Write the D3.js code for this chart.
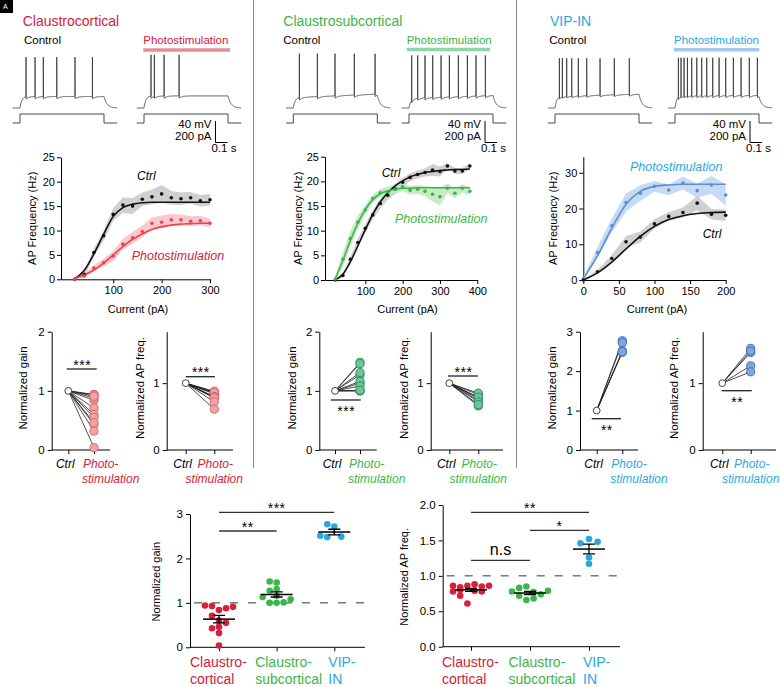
<!DOCTYPE html>
<html><head><meta charset="utf-8">
<script src="https://cdn.jsdelivr.net/npm/d3@7"></script>
<style>
body{margin:0;background:#fff;}
svg{display:block;font-family:"Liberation Sans",Arial,Helvetica,sans-serif;}
</style></head><body>
<svg id="chart" width="780" height="687"></svg>
<script>
// ================= DATA =================
const groups = ["Claustrocortical", "Claustrosubcortical", "VIP-IN"];
const traceLabels = ["Control", "Photostimulation"];
const condLabels = ["Ctrl", "Photo"];
const summaryCats = ["CC", "CS", "VIP"];
const summaryCatLines = [["Claustro-", "cortical"], ["Claustro-", "subcortical"], ["VIP-", "IN"]];

// spike times (ms after current-step onset) in example traces
const spikesCCctrl = [50, 125, 194, 306, 458, 603];
const spikesCCphoto = [58, 86, 167, 292];
const spikesCSctrl = [50, 200, 347, 508, 681];
const spikesCSphoto = [22, 72, 133, 197, 267, 336, 411, 486, 558, 636];
const spikesVIPctrl = [36, 61, 97, 139, 194, 264, 375, 494, 619];
const spikesVIPphoto = [28, 50, 75, 103, 139, 181, 222, 264, 314, 367, 422, 486, 550, 619, 686];

// F-I curves: Claustrocortical
const currentCC = [20, 40, 60, 80, 100, 120, 140, 160, 180, 200, 220, 240, 260, 280, 300];
const freqCCctrl = [0, 1.0, 5.5, 8.9, 13.3, 15.2, 15.0, 16.4, 16.9, 17.5, 16.7, 16.5, 16.7, 16.1, 16.3];
const semCCctrl = [0.2, 0.5, 0.8, 1.0, 1.3, 1.6, 1.6, 1.4, 1.5, 1.8, 1.4, 1.3, 1.2, 1.2, 1.2];
const fitCCctrl = [0.1, 1.8, 5.2, 9.2, 12.9, 14.7, 15.4, 15.7, 15.8, 15.8, 15.8, 15.8, 15.8, 15.8, 15.8];
const freqCCphoto = [0, 0.7, 2.3, 3.4, 4.8, 7.2, 8.5, 9.8, 11.5, 11.7, 12.2, 12.2, 11.9, 12.0, 11.5];
const semCCphoto = [0.2, 0.4, 0.6, 0.8, 1.0, 1.1, 1.2, 1.2, 1.2, 1.3, 1.2, 1.1, 1.0, 1.0, 0.9];
const fitCCphoto = [0.2, 0.9, 1.9, 3.3, 5.0, 6.7, 8.2, 9.3, 10.2, 10.8, 11.1, 11.3, 11.4, 11.5, 11.5];

// F-I curves: Claustrosubcortical
const currentCS = [20, 40, 60, 80, 100, 120, 140, 160, 180, 200, 220, 240, 260, 280, 300, 320, 340, 360, 380];
const freqCSctrl = [0, 0.9, 4.2, 7.6, 10.5, 13.2, 15.5, 17.2, 18.5, 19.8, 20.8, 21.4, 21.8, 22.3, 22.0, 23.1, 22.1, 22.1, 23.1];
const semCSctrl = [0.2, 0.4, 0.6, 0.7, 0.8, 0.9, 1.0, 1.0, 1.0, 0.9, 0.8, 0.8, 0.8, 1.2, 1.0, 0.6, 0.6, 0.6, 0.6];
const fitCSctrl = [0, 1.2, 3.7, 6.9, 10.2, 13.3, 15.8, 17.7, 19.1, 20.1, 20.9, 21.4, 21.8, 22.0, 22.2, 22.3, 22.4, 22.4, 22.5];
const freqCSphoto = [0.2, 4.2, 8.4, 11.7, 14.2, 16.5, 17.7, 17.9, 18.4, 18.9, 18.2, 18.4, 18.0, 17.4, 16.9, 18.6, 17.6, 18.6, 18.0];
const semCSphoto = [0.8, 1.5, 1.6, 1.4, 1.0, 0.8, 0.8, 1.0, 1.0, 0.8, 0.8, 0.9, 1.0, 1.5, 1.8, 1.0, 1.0, 0.8, 0.8];
const fitCSphoto = [0.3, 4.0, 8.0, 11.5, 14.3, 16.3, 17.5, 18.1, 18.4, 18.6, 18.6, 18.7, 18.7, 18.7, 18.7, 18.7, 18.7, 18.7, 18.7];

// F-I curves: VIP-IN
const currentVIP = [0, 20, 40, 60, 80, 100, 120, 140, 160, 180, 200];
const freqVIPctrl = [0, 2.3, 6.0, 10.7, 12.0, 15.7, 17.8, 18.9, 21.5, 18.4, 18.1];
const semVIPctrl = [0.2, 0.6, 1.0, 1.6, 1.6, 1.3, 1.2, 1.4, 2.0, 1.5, 1.6];
const fitVIPctrl = [0, 2.0, 5.0, 8.7, 12.2, 15.0, 16.9, 18.0, 18.6, 18.9, 19.0];
const freqVIPphoto = [0.3, 7.7, 15.2, 21.7, 24.3, 26.2, 25.2, 27.1, 25.0, 26.6, 23.8];
const semVIPphoto = [0.5, 1.5, 2.0, 2.5, 2.2, 1.5, 1.5, 1.8, 2.0, 2.5, 3.0];
const fitVIPphoto = [0.3, 6.8, 14.5, 21.2, 24.8, 26.2, 26.6, 26.8, 26.8, 26.8, 26.8];

// Normalized gain (photostimulation / control)
const gainCC = [0.94, 0.93, 0.84, 0.88, 0.91, 0.71, 0.60, 0.55, 0.43, 0.46, 0.32, 0.04];
const gainCS = [1.48, 1.46, 1.27, 1.31, 1.13, 1.16, 1.08, 1.00, 1.00, 1.01];
const gainVIP = [2.77, 2.72, 2.51, 2.48, 2.49];
// Normalized AP frequency
const apCC = [0.86, 0.84, 0.86, 0.88, 0.85, 0.86, 0.78, 0.80, 0.79, 0.78, 0.72, 0.61];
const apCS = [0.78, 0.83, 0.85, 0.77, 0.74, 0.79, 0.72, 0.66, 0.68];
const apVIP = [1.46, 1.52, 1.48, 1.26, 1.17];
// beeswarm slot of each summary dot
const gainCCslot = [-2, -1, 0, 1, 2, -1, 0, 1, -1, 0, 0, 0];
const gainCSslot = [-1, 0, -1, 0, -2, 0, 2, -1, 0, 1];
const gainVIPslot = [-1, 0, -2, -1, 1];
const apCCslot = [-2.5, -1.5, -0.5, 0.5, 1.5, 2.5, -2.5, -1.5, 0.5, 1.5, -1.5, -0.5];
const apCSslot = [-2.5, -1.5, -0.5, 0.5, 1.5, 2.5, -1.5, -0.5, 0.5];
const apVIPslot = [-1.2, 0, 1.2, 0, 0];

const sigGainSummary = [["CC", "VIP", "***"], ["CC", "CS", "**"]];
const sigApSummary = [["CC", "VIP", "**"], ["CS", "VIP", "*"], ["CC", "CS", "n.s"]];

// ================= STYLE =================
const FONT = '"Liberation Sans", Arial, Helvetica, sans-serif';
const RED = "#d5213c", GREEN = "#3cb54a", BLUE = "#29a8e0";
const svg = d3.select("#chart");

function text(g, x, y, s, o = {}) {
  const t = g.append("text").attr("x", x).attr("y", y).text(s)
    .attr("font-size", o.size || 11).attr("fill", o.fill || "#000")
    .attr("text-anchor", o.anchor || "start").attr("font-family", FONT);
  if (o.italic) t.attr("font-style", "italic");
  if (o.ls) t.attr("letter-spacing", o.ls);
  return t;
}
function vlabel(g, cx, cy, s, size) {
  g.append("text").attr("transform", `translate(${cx},${cy}) rotate(-90)`)
    .attr("text-anchor", "middle").attr("dy", "0.35em")
    .attr("font-size", size || 11).attr("font-family", FONT).text(s);
}
function styleAxis(sel, size) {
  sel.attr("font-size", size || 11).attr("font-family", FONT);
  sel.selectAll("path,line").attr("stroke", "#000").attr("stroke-width", 1);
  sel.selectAll("text").attr("fill", "#000");
}

// panel tag
svg.append("rect").attr("x", 0).attr("y", 0).attr("width", 13).attr("height", 13).attr("fill", "#000");
text(svg, 3, 9, "A", { size: 7, fill: "#fff" });

// separators
[253.5, 516.5].forEach(x => svg.append("line").attr("x1", x).attr("x2", x).attr("y1", 0).attr("y2", 468)
  .attr("stroke", "#8a8a8a").attr("stroke-width", 1));

// ================= EXAMPLE TRACES =================
const yV = d3.scaleLinear().domain([-70, 20]).range([108, 56]);
const yI = d3.scaleLinear().domain([0, 100]).range([123, 114]);
const ON = 60, OFF = 760, END = 870;

function membrane(spikes, p) {
  const spk = spikes.map(s => s + ON);
  let last = -Infinity, k = 0;
  const during = t => {
    const u = t - ON;
    let v = -70 + (p.plateau + 70) * (1 - Math.exp(-u / 15)) + p.drift * u / 700;
    if (t >= last) v -= p.ahp * Math.exp(-(t - last) / 25);
    return v;
  };
  const V = t => t < ON ? -70 : (t <= OFF ? during(t) : -70 + (during(OFF) + 70) * Math.exp(-(t - OFF) / 25));
  const pts = [];
  for (let t = 0; t <= END; t += 1) {
    while (k < spk.length && spk[k] <= t) {
      const ts = spk[k];
      pts.push([ts, V(ts)]);
      pts.push([ts + 0.4, p.peak]);
      last = ts + 1.2;
      pts.push([last, V(last)]);
      k++;
    }
    if (t < last) continue;
    pts.push([t, V(t)]);
  }
  return pts;
}
const stepPts = [[0, 0], [ON, 0], [ON, 100], [OFF, 100], [OFF, 0], [END, 0]];

const tracePanels = [
  { title: groups[0], color: RED, bar: "#e98c97", titleX: 22.7, ctrlX: 24, photoX: 143.3, barX2: 230, barY: 50,
    ctrlOn: 20, photoOn: 144, ctrl: spikesCCctrl, photo: spikesCCphoto, sbX: 215.5,
    pc: { plateau: -50, drift: 0, ahp: 4, peak: 18 }, pp: { plateau: -49, drift: 0, ahp: 4, peak: 22 } },
  { title: groups[1], color: GREEN, bar: "#8fd7aa", titleX: 283.3, ctrlX: 283.3, photoX: 406.7, barX2: 490, barY: 49.5,
    ctrlOn: 293.3, photoOn: 409, ctrl: spikesCSctrl, photo: spikesCSphoto, sbX: 485,
    pc: { plateau: -52, drift: 6, ahp: 4, peak: 24 }, pp: { plateau: -53, drift: 5, ahp: 4, peak: 21 } },
  { title: groups[2], color: BLUE, bar: "#9fc8eb", titleX: 550, ctrlX: 549.3, photoX: 674, barX2: 759.3, barY: 49.7,
    ctrlOn: 555, photoOn: 675, ctrl: spikesVIPctrl, photo: spikesVIPphoto, sbX: 750,
    pc: { plateau: -50, drift: 4, ahp: 3, peak: 16 }, pp: { plateau: -48, drift: 0, ahp: 4, peak: 17 } }
];

tracePanels.forEach(P => {
  const g = svg.append("g");
  text(g, P.titleX, 26, P.title, { size: 14, fill: P.color });
  text(g, P.ctrlX, 44.3, traceLabels[0], { size: 11.5 });
  text(g, P.photoX, 44.3, traceLabels[1], { size: 11.5, fill: P.color });
  g.append("line").attr("x1", P.photoX).attr("x2", P.barX2).attr("y1", P.barY).attr("y2", P.barY)
    .attr("stroke", P.bar).attr("stroke-width", 3.5);
  [[P.ctrlOn, P.ctrl, P.pc], [P.photoOn, P.photo, P.pp]].forEach(([onX, spikes, prm]) => {
    const tx = d3.scaleLinear().domain([0, END]).range([onX - ON * 0.12, onX + (END - ON) * 0.12]);
    const lineV = d3.line().x(d => tx(d[0])).y(d => yV(d[1]));
    const lineI = d3.line().x(d => tx(d[0])).y(d => yI(d[1]));
    g.append("path").attr("d", lineV(membrane(spikes, prm))).attr("fill", "none")
      .attr("stroke", "#333").attr("stroke-width", 0.8);
    g.append("path").attr("d", lineI(stepPts)).attr("fill", "none")
      .attr("stroke", "#333").attr("stroke-width", 0.9);
  });
  // scale bars
  text(g, P.sbX - 4, 128, "40 mV", { size: 11.5, anchor: "end" });
  text(g, P.sbX - 4, 139.5, "200 pA", { size: 11.5, anchor: "end" });
  g.append("path").attr("d", `M${P.sbX},121V142.5H${P.sbX + 12}`).attr("fill", "none")
    .attr("stroke", "#000").attr("stroke-width", 1);
  text(g, P.sbX - 4, 152, "0.1 s", { size: 11.5 });
});

// ================= F-I CURVES =================
function fiPanel(c) {
  const g = svg.append("g");
  const x = d3.scaleLinear().domain(c.xDomain).range(c.xRange);
  const y = d3.scaleLinear().domain(c.yDomain).range(c.yRange);
  const ay = g.append("g").attr("transform", `translate(${c.yAxisX},0)`)
    .call(d3.axisLeft(y).tickValues(c.yTicks).tickFormat(d3.format("d")).tickSize(4).tickPadding(2).tickSizeOuter(0));
  styleAxis(ay);
  const ax = g.append("g").attr("transform", `translate(0,${c.yRange[0]})`)
    .call(d3.axisBottom(x).tickValues(c.xTicks).tickFormat(d3.format("d")).tickSize(4).tickPadding(3).tickSizeOuter(0));
  styleAxis(ax);
  vlabel(g, c.yLabelX, (c.yRange[0] + c.yRange[1]) / 2, "AP Frequency (Hz)");
  text(g, c.xLabelX, 312.5, "Current (pA)", { anchor: "middle" });
  const rows = s => c.current.map((cur, i) => ({ cur, f: s.freq[i], e: s.sem[i], fit: s.fit[i] }));
  c.series.forEach(s => {
    g.append("path").datum(rows(s)).attr("fill", s.band).attr("opacity", 0.85)
      .attr("d", d3.area().x(d => x(d.cur)).y0(d => y(Math.max(0, d.f - d.e))).y1(d => y(d.f + d.e)));
  });
  c.series.forEach(s => {
    g.append("path").datum(rows(s)).attr("fill", "none").attr("stroke", s.line).attr("stroke-width", 1.6)
      .attr("d", d3.line().curve(d3.curveMonotoneX).x(d => x(d.cur)).y(d => y(d.fit)));
  });
  c.series.forEach(s => {
    g.selectAll(null).data(rows(s)).join("circle").attr("cx", d => x(d.cur)).attr("cy", d => y(d.f))
      .attr("r", 1.8).attr("fill", s.line);
  });
  c.labels.forEach(l => text(g, l.x, l.y, l.s, { size: l.size, italic: true, fill: l.fill }));
}

fiPanel({
  current: currentCC, xDomain: [-8, 300], xRange: [61, 210], yDomain: [0, 25], yRange: [279.3, 157.3],
  yAxisX: 61, yTicks: [0, 5, 10, 15, 20, 25], xTicks: [100, 200, 300], yLabelX: 31.7, xLabelX: 138,
  series: [
    { freq: freqCCctrl, sem: semCCctrl, fit: fitCCctrl, line: "#111", band: "#c8c8c8" },
    { freq: freqCCphoto, sem: semCCphoto, fit: fitCCphoto, line: "#f2404f", band: "#f8c0c5" }
  ],
  labels: [{ x: 137, y: 180, s: condLabels[0], size: 12, fill: "#000" },
           { x: 131.7, y: 260.3, s: traceLabels[1], size: 12.5, fill: RED }]
});
fiPanel({
  current: currentCS, xDomain: [-8, 400], xRange: [325, 477.3], yDomain: [0, 25], yRange: [280, 156.7],
  yAxisX: 325, yTicks: [0, 5, 10, 15, 20, 25], xTicks: [100, 200, 300, 400], yLabelX: 298.3, xLabelX: 407.5,
  series: [
    { freq: freqCSctrl, sem: semCSctrl, fit: fitCSctrl, line: "#111", band: "#c8c8c8" },
    { freq: freqCSphoto, sem: semCSphoto, fit: fitCSphoto, line: "#3cb44b", band: "#bfe6bb" }
  ],
  labels: [{ x: 381.7, y: 177.3, s: condLabels[0], size: 12, fill: "#000" },
           { x: 395, y: 223, s: traceLabels[1], size: 12.5, fill: GREEN }]
});
fiPanel({
  current: currentVIP, xDomain: [0, 200], xRange: [583.3, 725.7], yDomain: [0, 34.5], yRange: [280, 156.7],
  yAxisX: 583.3, yTicks: [0, 10, 20, 30], xTicks: [0, 50, 100, 150, 200], yLabelX: 553.3, xLabelX: 657,
  series: [
    { freq: freqVIPphoto, sem: semVIPphoto, fit: fitVIPphoto, line: "#5b8fd6", band: "#bcd3f1" },
    { freq: freqVIPctrl, sem: semVIPctrl, fit: fitVIPctrl, line: "#111", band: "#c8c8c8" }
  ],
  labels: [{ x: 630, y: 171, s: traceLabels[1], size: 12.5, fill: BLUE },
           { x: 702.7, y: 238.3, s: condLabels[0], size: 12, fill: "#000" }]
});

// ================= PAIRED PLOTS =================
function pairedPlot(c) {
  const g = svg.append("g");
  const y = d3.scaleLinear().domain(c.yDomain).range([450, 331.7]);
  const x = d3.scalePoint().domain(condLabels).range([c.ctrlX, c.photoX]);
  const ay = g.append("g").attr("transform", `translate(${c.axisX},0)`)
    .call(d3.axisLeft(y).tickValues(c.yTicks).tickFormat(d3.format("d")).tickSize(4).tickPadding(3).tickSizeOuter(0));
  styleAxis(ay, 11.5);
  const ax = g.append("g").attr("transform", "translate(0,450)")
    .call(d3.axisBottom(x).tickSize(4).tickFormat(""));
  styleAxis(ax);
  ax.select(".domain").remove();
  g.append("line").attr("x1", c.axisX).attr("x2", c.axisEnd).attr("y1", 450).attr("y2", 450)
    .attr("stroke", "#000").attr("stroke-width", 1);
  vlabel(g, c.labelX, 388, c.yLabel, 11.5);
  text(g, x("Ctrl") - 3, 467.5, condLabels[0], { size: 12, italic: true, anchor: "middle" });
  if (c.leftAlign) {
    text(g, x("Photo") - 11, 467.5, "Photo-", { size: 12, italic: true, fill: c.color });
    text(g, x("Photo") - 12, 482.5, "stimulation", { size: 12, italic: true, fill: c.color });
  } else {
    text(g, x("Photo") + 1, 467.5, "Photo-", { size: 12, italic: true, fill: c.color, anchor: "middle" });
    text(g, x("Photo"), 482.5, "stimulation", { size: 12, italic: true, fill: c.color, anchor: "middle" });
  }
  g.selectAll(null).data(c.values).join("line")
    .attr("x1", x("Ctrl")).attr("y1", y(1)).attr("x2", x("Photo")).attr("y2", d => y(d))
    .attr("stroke", "#222").attr("stroke-width", 0.8);
  g.selectAll(null).data(c.values).join("circle").attr("cx", x("Photo")).attr("cy", d => y(d))
    .attr("r", 4.1).attr("fill", c.fill).attr("stroke", c.stroke).attr("stroke-width", 0.9);
  g.append("circle").attr("cx", x("Ctrl")).attr("cy", y(1)).attr("r", 3.4)
    .attr("fill", "#fff").attr("stroke", "#444").attr("stroke-width", 1);
  // significance
  g.append("line").attr("x1", c.sig[0]).attr("x2", c.sig[1]).attr("y1", c.sig[2]).attr("y2", c.sig[2])
    .attr("stroke", "#222").attr("stroke-width", 1.3);
  const sy = c.sigBelow ? c.sig[2] + 16 : c.sig[2] + 0.5;
  text(g, (c.sig[0] + c.sig[1]) / 2 + 0.5, sy, c.stars, { size: 14, anchor: "middle", ls: 0.5 });
}
const redP = { color: RED, fill: "#f3a3a6", stroke: "#d0646c" };
const greenP = { color: GREEN, fill: "#6cc69a", stroke: "#2e8c5d" };
const blueP = { color: BLUE, fill: "#7fa7dd", stroke: "#3c6cb0" };
pairedPlot(Object.assign({ values: gainCC, yDomain: [0, 2], yTicks: [0, 1, 2], axisX: 51.7, axisEnd: 110,
  ctrlX: 68.3, photoX: 94, labelX: 23, yLabel: "Normalized gain", leftAlign: true,
  sig: [66.7, 96.7, 369], stars: "***", sigBelow: false }, redP));
pairedPlot(Object.assign({ values: apCC, yDomain: [0, 1.77], yTicks: [0, 1], axisX: 166.7, axisEnd: 233,
  ctrlX: 185.7, photoX: 214.3, labelX: 140, yLabel: "Normalized AP freq.", leftAlign: false,
  sig: [185.7, 215, 376.7], stars: "***", sigBelow: false }, redP));
pairedPlot(Object.assign({ values: gainCS, yDomain: [0, 2], yTicks: [0, 1, 2], axisX: 319.3, axisEnd: 376.7,
  ctrlX: 335, photoX: 360, labelX: 291.7, yLabel: "Normalized gain", leftAlign: true,
  sig: [330.7, 360.7, 400], stars: "***", sigBelow: true }, greenP));
pairedPlot(Object.assign({ values: apCS, yDomain: [0, 1.77], yTicks: [0, 1], axisX: 430.7, axisEnd: 503,
  ctrlX: 449.3, photoX: 478.3, labelX: 404, yLabel: "Normalized AP freq.", leftAlign: false,
  sig: [448, 478, 376], stars: "***", sigBelow: false }, greenP));
pairedPlot(Object.assign({ values: gainVIP, yDomain: [0, 3], yTicks: [0, 1, 2, 3], axisX: 580, axisEnd: 638,
  ctrlX: 596.7, photoX: 622.3, labelX: 551.7, yLabel: "Normalized gain", leftAlign: true,
  sig: [591.7, 621, 418.7], stars: "**", sigBelow: true }, blueP));
pairedPlot(Object.assign({ values: apVIP, yDomain: [0, 1.77], yTicks: [0, 1], axisX: 702.7, axisEnd: 776,
  ctrlX: 722.3, photoX: 750.7, labelX: 674, yLabel: "Normalized AP freq.", leftAlign: false,
  sig: [721.7, 751.7, 390.7], stars: "**", sigBelow: true }, blueP));

// ================= SUMMARY PLOTS =================
function summaryPlot(c) {
  const g = svg.append("g");
  const y = d3.scaleLinear().domain(c.yDomain).range(c.yRange);
  const x = d3.scalePoint().domain(summaryCats).range(c.catRange);
  const ay = g.append("g").attr("transform", `translate(${c.axisX},0)`)
    .call(d3.axisLeft(y).tickValues(c.yTicks).tickFormat(c.fmt).tickSize(4).tickPadding(3).tickSizeOuter(0));
  styleAxis(ay, 11.5);
  const ax = g.append("g").attr("transform", `translate(0,${c.yRange[0]})`)
    .call(d3.axisBottom(x).tickSize(4).tickFormat(""));
  styleAxis(ax);
  ax.select(".domain").remove();
  g.append("line").attr("x1", c.axisX).attr("x2", c.axisEnd).attr("y1", c.yRange[0]).attr("y2", c.yRange[0])
    .attr("stroke", "#000").attr("stroke-width", 1);
  vlabel(g, c.labelX, (c.yRange[0] + c.yRange[1]) / 2 + 1, c.yLabel, 11);
  g.append("line").attr("x1", c.axisX).attr("x2", c.axisEnd).attr("y1", y(1)).attr("y2", y(1))
    .attr("stroke", "#333").attr("stroke-width", 1).attr("stroke-dasharray", "8,10").attr("stroke-dashoffset", -4);
  const colors = [RED, GREEN, BLUE];
  const labelOff = [-29, -21.5, -6];
  c.sets.forEach((vals, gi) => {
    const cat = summaryCats[gi];
    g.selectAll(null).data(vals).join("circle")
      .attr("cx", (d, i) => x(cat) + c.slots[gi][i] * c.slotW).attr("cy", d => y(d))
      .attr("r", 3.3).attr("fill", colors[gi]);
    const m = d3.mean(vals), se = d3.deviation(vals) / Math.sqrt(vals.length);
    const cx = x(cat);
    g.append("line").attr("x1", cx - 16).attr("x2", cx + 16).attr("y1", y(m)).attr("y2", y(m))
      .attr("stroke", "#000").attr("stroke-width", 1.5);
    g.append("path").attr("d", `M${cx - 6},${y(m + se)}H${cx + 6}M${cx},${y(m + se)}V${y(m - se)}M${cx - 6},${y(m - se)}H${cx + 6}`)
      .attr("stroke", "#000").attr("stroke-width", 1.3).attr("fill", "none");
    summaryCatLines[gi].forEach((s, li) => text(g, cx + labelOff[gi], 667 + li * 16.5, s, { size: 14, fill: colors[gi] }));
  });
  c.sig.forEach(([a, b, s], i) => {
    const ly = c.sigY[i];
    g.append("line").attr("x1", x(a)).attr("x2", x(b)).attr("y1", ly).attr("y2", ly)
      .attr("stroke", "#333").attr("stroke-width", 1.3);
    if (s === "n.s") text(g, (x(a) + x(b)) / 2, ly - 5, s, { size: 16, anchor: "middle" });
    else text(g, (x(a) + x(b)) / 2, ly + 0.5, s, { size: 14, anchor: "middle", ls: 0.5 });
  });
}
summaryPlot({ yDomain: [0, 3], yRange: [647.3, 514], yTicks: [0, 1, 2, 3], fmt: d3.format("d"),
  catRange: [219, 334.3], axisX: 190, axisEnd: 365, labelX: 156, yLabel: "Normalized gain",
  sets: [gainCC, gainCS, gainVIP], slots: [gainCCslot, gainCSslot, gainVIPslot], slotW: 7,
  sig: sigGainSummary, sigY: [512.3, 531] });
summaryPlot({ yDomain: [0, 2], yRange: [646.7, 505], yTicks: [0, 0.5, 1, 1.5, 2], fmt: d3.format(".1f"),
  catRange: [471, 589], axisX: 442.7, axisEnd: 620, labelX: 404, yLabel: "Normalized AP freq.",
  sets: [apCC, apCS, apVIP], slots: [apCCslot, apCSslot, apVIPslot], slotW: 7.2,
  sig: sigApSummary, sigY: [512.3, 530.3, 560.3] });
</script>
</body></html>
